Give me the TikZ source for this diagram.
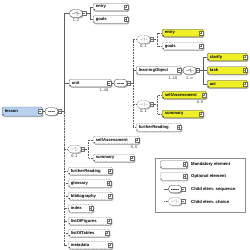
\documentclass[tikz,border=0pt]{standalone}
\usepackage{fontspec}
\setmainfont{Liberation Sans}
\usetikzlibrary{shadows}
\definecolor{ylw}{RGB}{240,240,40}
\definecolor{lblue}{RGB}{184,210,238}
\definecolor{lborder}{RGB}{90,120,160}
\definecolor{lin}{RGB}{95,95,95}
\definecolor{bord}{RGB}{110,110,110}
\tikzset{
 xsshadow/.style={drop shadow={shadow xshift=1.1bp, shadow yshift=-1.1bp, fill=black!50, opacity=0.6}},
 xsbox/.style={draw=bord, fill=white, rounded corners=1.2bp, line width=0.35bp, inner sep=0pt, minimum height=7.5bp, xsshadow},
 xsopt/.style={xsbox, dash pattern=on 0.9bp off 0.7bp},
 xsylw/.style={xsbox, fill=ylw, draw=black!70},
 xsroot/.style={xsbox, fill=lblue, draw=lborder, minimum height=9bp},
 xstext/.style={font=\fontsize{4.2}{4.5}\selectfont\bfseries, inner sep=0pt, anchor=west, text=black},
 xsleg/.style={font=\fontsize{4.3}{4.6}\selectfont\bfseries, inner sep=0pt, anchor=west, text=black},
 xsocc/.style={font=\fontsize{3.8}{4}\selectfont, inner sep=0pt, text=black!85},
 xsbtn/.style={draw=bord, fill=white, line width=0.3bp, minimum width=3.4bp, minimum height=3.8bp, inner sep=0pt},
 xsplus/.style={xsbtn, path picture={\draw[line width=0.3bp] ([xshift=0.7bp]path picture bounding box.west) -- ([xshift=-0.7bp]path picture bounding box.east) ([yshift=0.8bp]path picture bounding box.south) -- ([yshift=-0.8bp]path picture bounding box.north);}},
 xsminus/.style={xsbtn, path picture={\draw[line width=0.3bp] ([xshift=0.7bp]path picture bounding box.west) -- ([xshift=-0.7bp]path picture bounding box.east);}},
 xsseq/.style={draw=black!75, fill=white, line width=0.35bp, rounded corners=3.4bp, minimum width=13bp, minimum height=7.5bp, inner sep=0pt, xsshadow,
   path picture={\draw[line width=0.35bp, sharp corners] ([xshift=-3.8bp]path picture bounding box.center) -- ([xshift=3.8bp]path picture bounding box.center);
     \fill ([xshift=-2.5bp]path picture bounding box.center) circle (0.5bp) (path picture bounding box.center) circle (0.5bp) ([xshift=2.5bp]path picture bounding box.center) circle (0.5bp);}},
 xschoice/.style={xsseq, path picture={\draw[line width=0.3bp, sharp corners] ([xshift=-4bp]path picture bounding box.center) -- ([xshift=-1.4bp]path picture bounding box.center) -- ([xshift=0.3bp,yshift=1.2bp]path picture bounding box.center)
     ([xshift=1bp,yshift=1.8bp]path picture bounding box.center) -- ([xshift=1bp,yshift=-1.8bp]path picture bounding box.center)
     ([xshift=1bp,yshift=1.5bp]path picture bounding box.center) -- ([xshift=2.3bp,yshift=1.5bp]path picture bounding box.center)
     ([xshift=1bp,yshift=-1.5bp]path picture bounding box.center) -- ([xshift=2.3bp,yshift=-1.5bp]path picture bounding box.center)
     ([xshift=1bp]path picture bounding box.center) -- ([xshift=4bp]path picture bounding box.center);}},
 xsoptchoice/.style={xschoice, draw=black!60, dash pattern=on 0.9bp off 0.7bp},
 xsconn/.style={draw=lin, line width=0.35bp},
 xsoptconn/.style={xsconn, dash pattern=on 0.8bp off 0.8bp},
}
% name, x0, x1, yc, text, box style, button style
\newcommand\xel[7]{%
  \node[#6, minimum width={(#3-#2)*1bp}, anchor=west] (#1) at (#2,#4) {};
  \node[xstext] (#1t) at ([xshift=2.6bp]#1.west) {#5};
  \fill[black!80] ([xshift=1.3bp,yshift=1.4bp]#1.south west) circle (0.55bp);
  \node[#7] (#1b) at ([xshift=-2.3bp]#1.east) {};
}
\begin{document}
\begin{tikzpicture}[x=1bp,y=-1bp]
\useasboundingbox[fill=white] (0,0) rectangle (250,250);
% root
\xel{lesson}{2}{42}{111.5}{lesson}{xsroot}{xsminus}
\node[xsseq] (lseq) at (51.5,111.5) {};
\node[xsminus] (lseqb) at (59.7,111.5) {};
\draw[xsconn] (lessonb.east) -- (lseq.west);
\coordinate (T1) at (64,111.5);
\draw[xsconn] (lseqb.east) -- (T1);
% top choice
\node[xschoice] (ch1) at (76,13.5) {};
\node[xsminus] (ch1b) at (84.2,13.5) {};
\node[xsocc] (o1) at (76,20.5) {1..2};
\draw[xsconn] (T1) |- (ch1.west);
\coordinate (T1a) at (90,13.5);
\draw[xsconn] (ch1b.east) -- (T1a);
\xel{entryA}{93}{128}{7}{entry}{xsbox}{xsplus}
\xel{goalsA}{93}{128}{19.5}{goals}{xsbox}{xsplus}
\draw[xsconn] (T1a) |- (entryA.west);
\draw[xsconn] (T1a) |- (goalsA.west);
% unit
\xel{unit}{69}{111}{83}{unit}{xsbox}{xsminus}
\node[xsocc] (o2) at (104,90.5) {1..40};
\draw[xsconn] (T1) |- (unit.west);
\node[xsseq] (useq) at (120.5,83) {};
\node[xsminus] (useqb) at (128.7,83) {};
\draw[xsconn] (unitb.east) -- (useq.west);
\coordinate (T2) at (133,83);
\draw[xsconn] (useqb.east) -- (T2);
% choice 0..1 (entry/goals)
\node[xsoptchoice] (ch2) at (143.5,39.5) {};
\node[xsminus] (ch2b) at (151.7,39.5) {};
\node[xsocc] (o3) at (143.5,46.5) {0..1};
\draw[xsoptconn] (T2) |- (ch2.west);
\coordinate (T2a) at (157.5,39.5);
\draw[xsoptconn] (ch2b.east) -- (T2a);
\xel{entryB}{162}{203}{33}{entry}{xsylw}{xsplus}
\xel{goalsB}{162}{203}{46}{goals}{xsopt}{xsplus}
\draw[xsoptconn] (T2a) |- (entryB.west);
\draw[xsoptconn] (T2a) |- (goalsB.west);
% learningObject
\xel{lo}{136}{181}{70.5}{learningObject}{xsbox}{xsminus}
\node[xsocc] (o4) at (173,78) {1..10};
\draw[xsconn] (T2) |- (lo.west);
\node[xschoice] (ch3) at (189.5,70.5) {};
\node[xsminus] (ch3b) at (197.7,70.5) {};
\node[xsocc] (o5) at (189.5,78) {1..∞};
\draw[xsconn] (lob.east) -- (ch3.west);
\coordinate (T3) at (203,70.5);
\draw[xsconn] (ch3b.east) -- (T3);
\xel{clarify}{207}{247}{57}{clarify}{xsylw}{xsplus}
\xel{task}{207}{247}{70.5}{task}{xsylw}{xsplus}
\xel{act}{207}{247}{84}{act}{xsylw}{xsplus}
\draw[xsconn] (T3) |- (clarify.west);
\draw[xsconn] (T3) -- (task.west);
\draw[xsconn] (T3) |- (act.west);
% choice 0..1 (selfAssessment/summary)
\node[xsoptchoice] (ch4) at (143.5,104.5) {};
\node[xsminus] (ch4b) at (151.7,104.5) {};
\node[xsocc] (o6) at (143.5,111.5) {0..1};
\draw[xsoptconn] (T2) |- (ch4.west);
\coordinate (T2b) at (157.5,104.5);
\draw[xsoptconn] (ch4b.east) -- (T2b);
\xel{saB}{162}{206}{95}{selfAssessment}{xsylw}{xsplus}
\node[xsocc] (o7) at (200,102) {0..5};
\xel{sumB}{162}{203}{114}{summary}{xsylw}{xsplus}
\draw[xsoptconn] (T2b) |- (saB.west);
\draw[xsoptconn] (T2b) |- (sumB.west);
\xel{frB}{136}{181}{127.5}{furtherReading}{xsopt}{xsplus}
\draw[xsoptconn] (T2) |- (frB.west);
% lower left
\node[xsoptchoice] (ch5) at (74.5,149) {};
\node[xsminus] (ch5b) at (82.7,149) {};
\node[xsocc] (o8) at (74.5,156.5) {0..1};
\draw[xsoptconn] (T1) |- (ch5.west);
\coordinate (T1b) at (88.5,149);
\draw[xsoptconn] (ch5b.east) -- (T1b);
\xel{saA}{93}{139}{140}{selfAssessment}{xsopt}{xsplus}
\node[xsocc] (o9) at (134,147.5) {0..5};
\xel{sumA}{93}{134}{158}{summary}{xsopt}{xsplus}
\draw[xsoptconn] (T1b) |- (saA.west);
\draw[xsoptconn] (T1b) |- (sumA.west);
\xel{frA}{68}{112}{171}{furtherReading}{xsopt}{xsplus}
\xel{glos}{68}{111}{183.5}{glossary}{xsopt}{xsplus}
\xel{bib}{68}{112}{196}{bibliography}{xsopt}{xsplus}
\xel{idx}{68}{93}{208.5}{index}{xsopt}{xsplus}
\xel{lof}{68}{111}{221}{listOfFigures}{xsopt}{xsplus}
\xel{lot}{68}{109}{233}{listOfTables}{xsopt}{xsplus}
\xel{meta}{68}{112}{245}{metadata}{xsopt}{xsplus}
\foreach \n in {frA,glos,bib,idx,lof,lot,meta} {\draw[xsoptconn] (T1) |- (\n.west);}
% legend
\node[draw=black!45, fill=white, line width=0.4bp, minimum width=90bp, minimum height=54bp, inner sep=0pt] (leg) at (200,185) {};
\xel{lgm}{160}{187}{164.5}{}{xsbox}{xsplus}
\node[xsleg] (lgmt) at (191,164.5) {Mandatory element};
\xel{lgo}{160}{187}{176.5}{}{xsopt}{xsplus}
\node[xsleg] (lgot) at (191,176.5) {Optional element};
\coordinate (lsin) at (164,189);
\node[xsseq] (lgs) at (175,189) {};
\node[xsminus] (lgsb) at (183.2,189) {};
\draw[xsconn] (lsin) -- (lgs.west);
\node[xsleg] (lgst) at (191,189) {Child elem. sequence};
\coordinate (lcin) at (164,201.5);
\node[xsoptchoice] (lgc) at (175,201.5) {};
\node[xsminus] (lgcb) at (183.2,201.5) {};
\draw[xsoptconn] (lcin) -- (lgc.west);
\node[xsleg] (lgct) at (191,201.5) {Child elem. choice};
\end{tikzpicture}
\end{document}
